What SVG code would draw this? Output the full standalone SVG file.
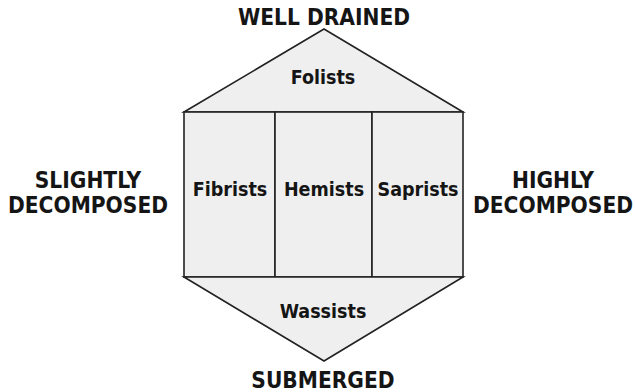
<svg xmlns="http://www.w3.org/2000/svg" width="635" height="392" viewBox="0 0 635 392">
<style>
.s{fill:#efefef;stroke:#222;stroke-width:1.6;stroke-linejoin:miter}
.t{font-family:"DejaVu Sans Condensed","DejaVu Sans",sans-serif;font-weight:bold;fill:#151515;text-anchor:middle}
.in{font-size:19.5px}
.out{font-size:22.5px}
</style>
<rect width="635" height="392" fill="#fff"/>
<g id="folists"><polygon class="s" points="184,112 324,29 463,112"/><text class="t in" x="323" y="84">Folists</text></g>
<g id="fibrists"><rect class="s" x="184" y="112" width="91" height="165"/><text class="t in" x="230" y="196">Fibrists</text></g>
<g id="hemists"><rect class="s" x="275" y="112" width="97" height="165"/><text class="t in" x="324" y="196">Hemists</text></g>
<g id="saprists"><rect class="s" x="372" y="112" width="91" height="165"/><text class="t in" x="418" y="196">Saprists</text></g>
<g id="wassists"><polygon class="s" points="184,277 463,277 324,361"/><text class="t in" x="323" y="318">Wassists</text></g>
<g id="connectors"></g>
<g id="labels">
<text class="t out" x="324" y="25">WELL DRAINED</text>
<text class="t out" x="323" y="388">SUBMERGED</text>
<text class="t out" x="88" y="188">SLIGHTLY</text>
<text class="t out" x="88" y="213">DECOMPOSED</text>
<text class="t out" x="553" y="188">HIGHLY</text>
<text class="t out" x="553" y="213">DECOMPOSED</text>
</g>
</svg>
